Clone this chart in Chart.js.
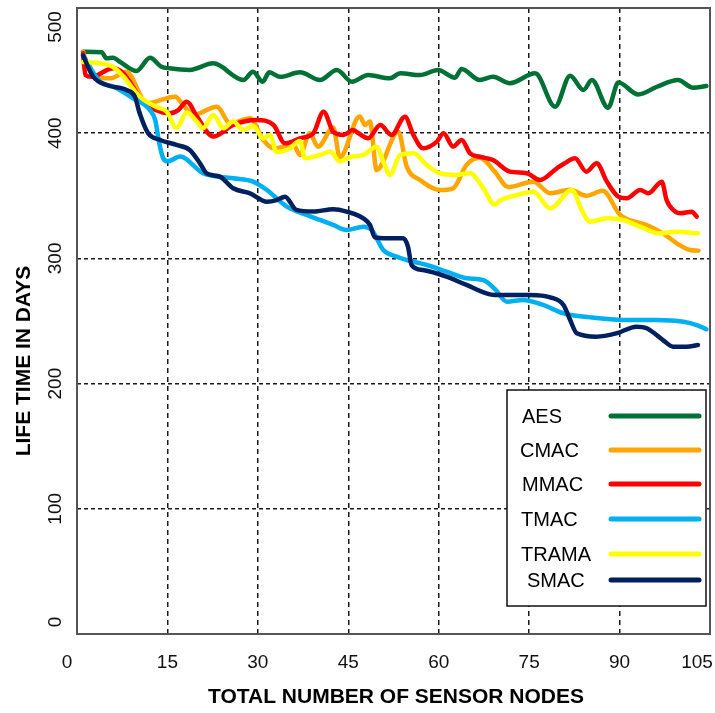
<!DOCTYPE html>
<html>
<head>
<meta charset="utf-8">
<script src="https://cdn.jsdelivr.net/npm/chart.js@4"></script>
<style>
  body { margin: 0; background: #fff; }
  #wrap { width: 715px; height: 713px; }
</style>
</head>
<body>
<div id="wrap"><canvas id="life-chart" width="715" height="713"></canvas></div>
<script>
// Series labels, colours and tick values
const seriesNames = ['AES', 'CMAC', 'MMAC', 'TMAC', 'TRAMA', 'SMAC'];
const seriesColors = ['#007134', '#ffa500', '#ff0000', '#00b0f0', '#ffff00', '#002060'];
const xTicks = [0, 15, 30, 45, 60, 75, 90, 105];
const yTicks = [0, 100, 200, 300, 400, 500];

// [nodes, lifetime]
const aes = [[1.0,465],[4.1,464.6],[4.9,459.8],[6.0,460.3],[7.1,457.1],[9.9,449.7],[12.1,460.3],[14.0,453.1],
  [15.4,451.8],[18.7,450.5],[22.6,455.8],[27.6,442.5],[29.2,449.1],[30.8,441.1],[31.9,448.6],[33.7,445],
  [37.0,448.7],[40.3,442.5],[43.1,450.5],[45.6,441.1],[48.3,446.4],[51.9,443.8],[53.6,447.8],[56.9,446.4],
  [59.9,450.5],[62.7,444.3],[63.8,451.3],[66.8,442.5],[69.0,445],[71.8,439.9],[76.0,447.8],[79.3,421.2],
  [81.8,445.9],[84.0,434.5],[85.4,442.5],[88.1,420.4],[89.8,440.5],[93.1,430.9],[96.2,437.1],[99.7,442.5],
  [102.2,436.3],[104.4,437.7]];

const cmac = [[1.0,465],[2.2,449],[5.5,443.8],[8.2,449.1],[11.6,423.9],[16.3,429.2],[17.4,423.9],[19.3,414.5],
  [23.2,421.2],[25.4,407.9],[28.7,411.9],[30.9,394.6],[32.6,387.9],[35.9,390.6],[37.0,382.6],[38.6,399.9],
  [40.0,389.2],[42.5,404.5],[43.6,380.6],[46.9,413.3],[47.8,406.6],[48.6,409.3],[49.7,370.6],[53.3,401.2],
  [54.7,373.3],[56.9,362.6],[60.2,354.6],[62.4,356],[64.6,374.6],[66.8,380.4],[69.3,369.3],[71.5,357],
  [75.7,361.3],[78.5,352],[81.8,354.8],[84.5,350],[87.2,354],[90.1,334.7],[94.5,326.7],[97.2,320],
  [99.5,312],[101.7,306.7],[103.1,306.2]];

const mmac = [[1.0,463.8],[1.4,446.5],[2.4,445.1],[6.0,451.8],[7.7,447.8],[11.0,425.2],[15.4,415.9],[16.8,418.5],
  [18.2,425.2],[19.9,413.2],[22.6,397.3],[25.9,406.6],[29.8,410.5],[32.6,406.6],[34.5,391.9],[37.0,395.9],
  [39.2,399.9],[40.9,417.2],[42.5,401.2],[44.2,398.6],[45.8,402.6],[46.7,399.9],[48.3,395.9],[50.3,406.5],
  [52.2,398.6],[54.4,413.2],[55.8,398.6],[57.4,388],[59.7,393.3],[60.8,399.9],[62.4,389.3],[63.8,394.6],
  [65.2,383.9],[66.8,381.2],[69.0,378.6],[71.8,369.3],[74.6,368],[76.8,362.6],[79.6,372],[80.9,376],
  [82.6,379.9],[84.5,369.3],[86.2,376],[87.9,361.3],[89.8,349.3],[91.2,348],[93.4,354.6],[94.8,352],
  [97.0,361.3],[97.8,346.6],[98.4,341.3],[100.0,336],[102.0,337.3],[102.8,333.4]];

const tmac = [[1.0,462],[3.8,441.2],[6.0,437.3],[9.3,427.9],[12.1,418.5],[13.0,410],[13.6,393],[14.3,380],
  [15.0,377.5],[17.1,381.4],[20.9,368],[25.9,364],[29.2,361.3],[31.5,354.6],[34.8,341.3],[38.1,334.7],
  [40.3,330.7],[42.5,326.7],[44.7,322.7],[47.5,325.3],[48.9,322.7],[50.8,306.7],[53.0,301.4],[54.7,298.7],
  [58.0,294.7],[61.3,289.5],[64.6,284.2],[67.4,282.7],[69.3,275.6],[71.3,265.4],[74.0,266.8],[77.3,262.8],
  [80.7,256.1],[85.1,252.9],[90.6,250.8],[96.1,250.8],[100.6,249.4],[102.8,246.8],[104.4,243.4]];

const trama = [[1.0,456.9],[3.8,455.8],[6.0,452.9],[7.7,445.2],[10.4,429.2],[13.2,420.9],[14.9,417.2],[16.5,404.1],
  [18.2,416.6],[19.9,409.3],[20.9,404],[22.6,414.5],[24.3,404],[25.9,409.3],[27.6,402.6],[29.2,405.8],
  [30.9,395.8],[32.0,398.6],[33.1,385],[35.0,387],[37.0,393.7],[37.8,380],[40.3,382.6],[42.0,385.3],
  [43.6,377.4],[45.3,381],[47.5,382.6],[49.7,389.2],[50.8,377.4],[51.9,366.7],[53.6,382.6],[55.8,384],
  [58.0,374.6],[60.2,368],[62.9,366.7],[65.2,368],[67.4,356],[69.3,343],[70.2,346.3],[72.9,350.6],
  [75.7,353.3],[78.5,340],[82.1,354.6],[83.7,338.7],[85.1,329.3],[87.9,332],[90.6,330.7],[93.4,325.3],
  [96.7,320],[99.5,321.3],[103.0,320]];

const smac = [[1.0,462],[2.7,445.1],[4.9,438.5],[8.2,434.5],[9.6,429.2],[10.4,415.9],[11.8,399.9],[13.8,394.6],
  [16.5,390.6],[18.7,386.6],[20.4,375.9],[21.5,367.9],[23.7,365.3],[25.9,356],[28.7,352],[31.5,345.3],
  [33.1,346.6],[34.5,349.3],[36.4,338.7],[39.2,337.4],[42.5,339.3],[44.7,337.4],[47.5,332],[48.6,326.7],
  [49.4,316.9],[51.4,316.1],[54.1,316.1],[54.9,309.4],[55.5,294.7],[57.4,290.7],[61.3,285.4],[64.6,278.8],
  [69.3,270.8],[71.8,270.8],[75.1,270.8],[78.5,268.9],[80.7,262.8],[81.8,250.8],[82.9,240.2],[86.2,237.5],
  [89.5,240.2],[92.8,245.5],[94.5,244.2],[97.2,234.8],[98.9,229.5],[101.1,229.5],[103.0,230.8]];

const seriesData = [aes, cmac, mmac, tmac, trama, smac];

// Build datasets
const datasets = seriesNames.map((name, i) => ({
  label: name,
  data: seriesData[i].map(p => ({ x: p[0], y: p[1] })),
  borderColor: seriesColors[i],
  borderWidth: 4.5,
  pointRadius: 0,
  fill: false,
  cubicInterpolationMode: 'monotone',
  borderJoinStyle: 'round',
  borderCapStyle: 'round',
  order: seriesNames.length - i
}));

// Hide grid lines that sit on the frame
function innerGrid(color) {
  return (ctx) => {
    const s = ctx.scale;
    return (ctx.tick && (ctx.tick.value === s.min || ctx.tick.value === s.max)) ? 'rgba(0,0,0,0)' : color;
  };
}

// Frame, tick labels, axis titles and the boxed legend
const decorations = {
  id: 'decorations',
  afterDraw(chart) {
    const { ctx, chartArea: a, scales: { x, y } } = chart;
    ctx.save();

    ctx.strokeStyle = '#555';
    ctx.lineWidth = 2;
    ctx.strokeRect(a.left, a.top, a.right - a.left, a.bottom - a.top);

    ctx.fillStyle = '#111';
    ctx.font = '19px "Liberation Sans", Arial, sans-serif';
    ctx.textAlign = 'center';
    ctx.textBaseline = 'middle';
    xTicks.forEach((v, i) => {
      let px = x.getPixelForValue(v);
      if (i === 0) px -= 10;
      if (i === xTicks.length - 1) px -= 13;
      ctx.fillText(String(v), px, 663);
    });
    yTicks.forEach(v => {
      const py = Math.min(Math.max(y.getPixelForValue(v), a.top + 19), a.bottom - 12);
      ctx.save();
      ctx.translate(56, py);
      ctx.rotate(-Math.PI / 2);
      ctx.fillText(String(v), 0, 0);
      ctx.restore();
    });

    ctx.fillStyle = '#000';
    ctx.font = 'bold 21px "Liberation Sans", Arial, sans-serif';
    ctx.fillText('TOTAL NUMBER OF SENSOR NODES', 396, 697);
    ctx.save();
    ctx.translate(24, 361);
    ctx.rotate(-Math.PI / 2);
    ctx.fillText('LIFE TIME IN DAYS', 0, 0);
    ctx.restore();

    // legend box
    const bx = 507, by = 390, bw = 199, bh = 216;
    ctx.fillStyle = '#fff';
    ctx.fillRect(bx, by, bw, bh);
    ctx.strokeStyle = '#111';
    ctx.lineWidth = 1.5;
    ctx.strokeRect(bx, by, bw, bh);
    const rowY = [416, 450, 484, 519, 554, 580];
    const textX = [522, 520, 522, 521, 521, 527];
    ctx.font = '20px "Liberation Sans", Arial, sans-serif';
    ctx.textAlign = 'left';
    ctx.lineCap = 'round';
    seriesNames.forEach((name, i) => {
      ctx.fillStyle = '#000';
      ctx.fillText(name, textX[i], rowY[i] + 1);
      ctx.strokeStyle = seriesColors[i];
      ctx.lineWidth = 5;
      ctx.beginPath();
      ctx.moveTo(611, rowY[i]);
      ctx.lineTo(699, rowY[i]);
      ctx.stroke();
    });
    ctx.restore();
  }
};

const lifeChart = new Chart(document.getElementById('life-chart'), {
  type: 'line',
  data: { datasets },
  plugins: [decorations],
  options: {
    responsive: false,
    devicePixelRatio: 1,
    animation: false,
    layout: { padding: { top: 8, right: 5, left: 0, bottom: 0 } },
    plugins: { legend: { display: false }, tooltip: { enabled: false } },
    scales: {
      x: {
        type: 'linear',
        min: 0,
        max: 105,
        ticks: { stepSize: 15, display: false },
        grid: { color: innerGrid('#1a1a1a'), lineWidth: 1.5, drawTicks: false },
        border: { display: false, dash: [5, 4] },
        afterFit: (s) => { s.height = 79; }
      },
      y: {
        min: 0,
        max: 500,
        ticks: { stepSize: 100, display: false },
        grid: { color: innerGrid('#1a1a1a'), lineWidth: 1.5, drawTicks: false },
        border: { display: false, dash: [4, 3] },
        afterFit: (s) => { s.width = 77; }
      }
    }
  }
});
</script>
</body>
</html>
